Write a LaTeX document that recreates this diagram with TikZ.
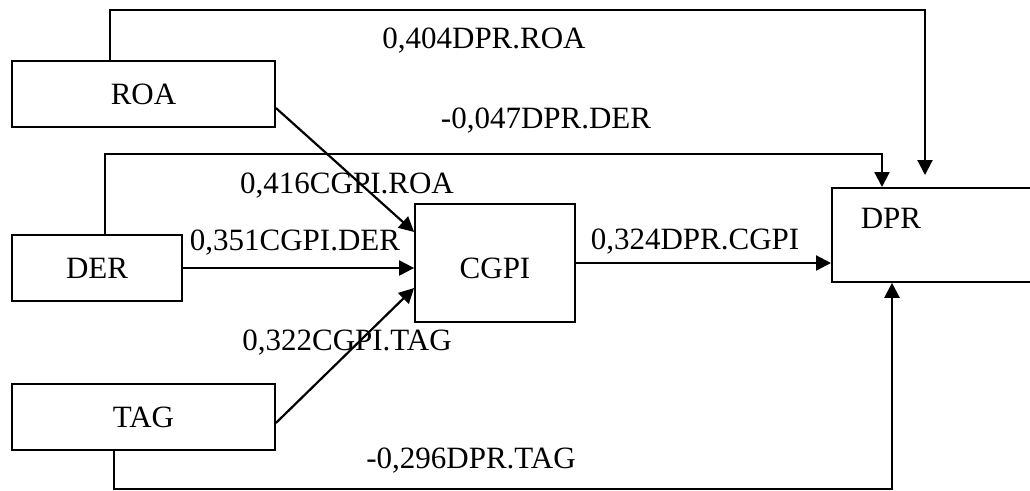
\documentclass[tikz,border=0pt]{standalone}
\usepackage{fontspec}
\setmainfont{Liberation Serif}
\usetikzlibrary{arrows.meta,calc}

\begin{document}
\begin{tikzpicture}[x=1pt,y=-1pt,every node/.style={font=\fontsize{31}{36}\selectfont},
  box/.style={draw,line width=1.8pt,inner sep=0pt},
  arr/.style={line width=2.2pt,-{Triangle[length=15pt,width=15pt]}}]
\useasboundingbox(0,0)rectangle(1030,490);
% variables
\node[box,minimum width=263,minimum height=66](ROA)at(143.5,94){ROA};
\node[box,minimum width=170,minimum height=66](DER)at(97,268){DER};
\node[box,minimum width=263,minimum height=66](TAG)at(143.5,417){TAG};
\node[box,minimum width=160,minimum height=118,text height=32pt](CGPI)at(495,263){CGPI};
\node[box,minimum width=230,minimum height=94,anchor=north west](DPR)at(831,187){};
\node[anchor=base]at(891,228){DPR};
\coordinate(roabend)at(925,10);\coordinate(roaend)at(925,175);
\coordinate(derbend)at(882,154);\coordinate(tagbend)at(892,489);
% paths
\draw[arr]([yshift=-14pt]ROA.east)--([yshift=31pt]CGPI.west);
\draw[arr](DER.east)--(DER.east-|CGPI.west);
\draw[arr]([yshift=-6pt]TAG.east)--([yshift=-25pt]CGPI.west);
\draw[arr](CGPI.east)--(CGPI.east-|DPR.west);
\draw[arr]([xshift=-33.5pt]ROA.north)|-(roabend)--(roaend);
\draw[arr]([xshift=8pt]DER.north)|-(derbend)--(derbend|-DPR.north);
\draw[arr]([xshift=-29.5pt]TAG.south)|-(tagbend)--(tagbend|-DPR.south);
% coefficients
\node[anchor=base](lroadpr)at(484,48){0,404DPR.ROA};
\node[anchor=base](lderdpr)at(546,128){-0,047DPR.DER};
\node[anchor=base](lroacgpi)at(347,193){0,416CGPI.ROA};
\node[anchor=base](ldercgpi)at(295,250){0,351CGPI.DER};
\node[anchor=base](lcgpidpr)at(695,249){0,324DPR.CGPI};
\node[anchor=base](ltagcgpi)at(347,350){0,322CGPI.TAG};
\node[anchor=base](ltagdpr)at(471,468){-0,296DPR.TAG};
\end{tikzpicture}
\end{document}
